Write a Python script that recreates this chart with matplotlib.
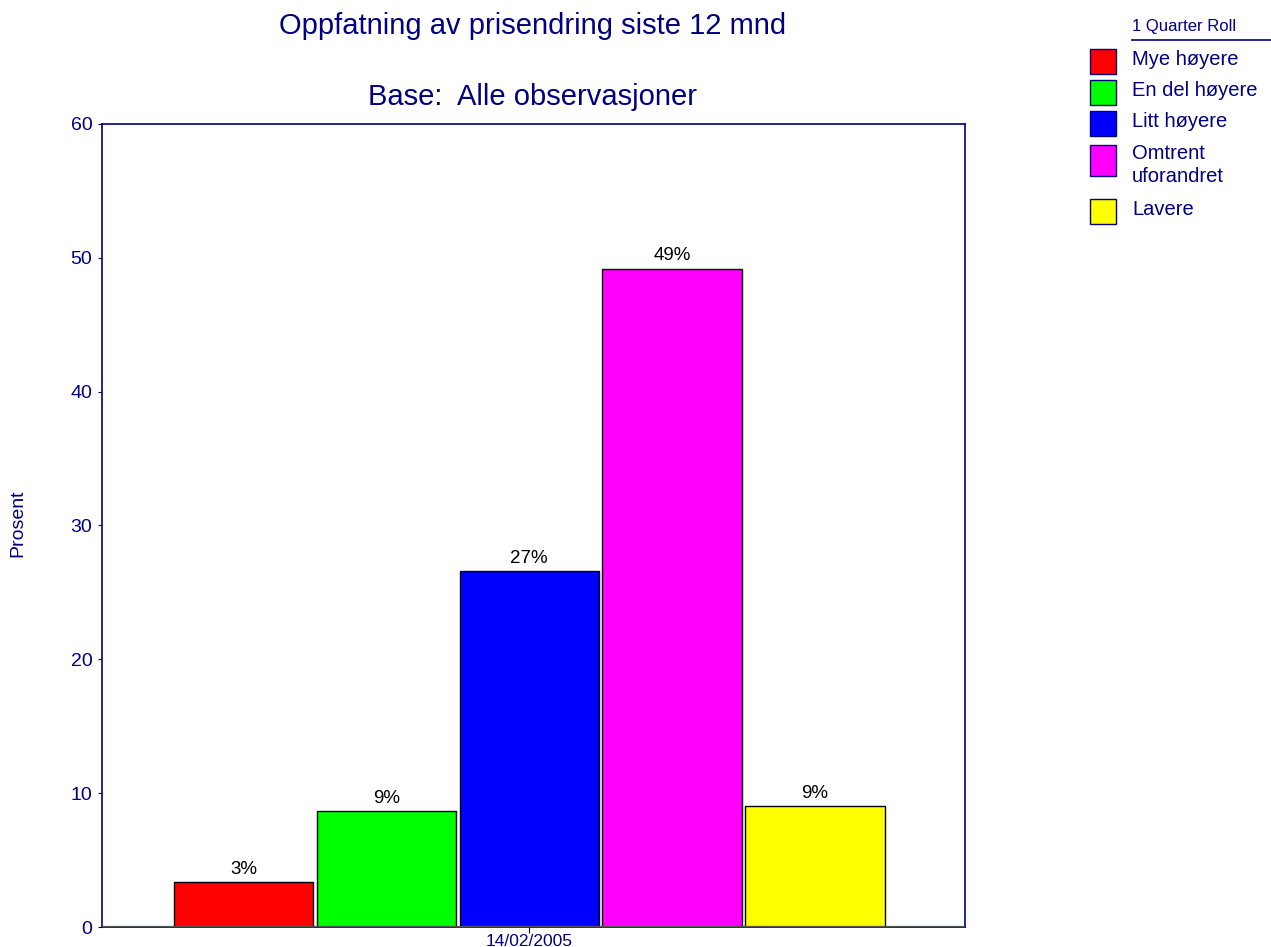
import matplotlib

matplotlib.use("Agg")
import matplotlib.pyplot as plt
from matplotlib.patches import Rectangle

plt.rcParams["font.family"] = ["Liberation Sans", "DejaVu Sans"]

NAVY = "#000080"

categories = ["Mye høyere", "En del høyere", "Litt høyere", "Omtrent\nuforandret", "Lavere"]
values = [3.35, 8.7, 26.6, 49.2, 9.05]
labels = ["3%", "9%", "27%", "49%", "9%"]
colors = ["#ff0000", "#00ff00", "#0000ff", "#ff00ff", "#ffff00"]
date_label = "14/02/2005"

fig = plt.figure(figsize=(12.71, 9.47), dpi=100)
ax = fig.add_axes([0.0803, 0.0211, 0.6789, 0.8480])

positions = [i - 2 for i in range(len(values))]
bars = ax.bar(positions, values, width=0.975, color=colors,
              edgecolor="black", linewidth=1.0, zorder=3)
for b, lab in zip(bars, labels):
    ax.text(b.get_x() + b.get_width() / 2, b.get_height() + 0.3, lab,
            ha="center", va="bottom", fontsize=13.5, color="black")

ax.axhline(0, color="#555555", lw=1.6, zorder=4)
ax.set_xlim(-2.99, 3.05)
ax.set_ylim(0, 60)
ax.set_yticks(range(0, 61, 10))
ax.set_xticks([0])
ax.set_xticklabels([date_label])
for s in ax.spines.values():
    s.set_color(NAVY)
    s.set_linewidth(1.2)
ax.tick_params(axis="y", colors=NAVY, labelsize=14, length=3, pad=4)
ax.tick_params(axis="x", colors=NAVY, labelsize=12.5, length=4, pad=1)

fig.text(18 / 1271, 1 - 523 / 947, "Prosent", rotation=90, ha="center",
         va="center", fontsize=14, color=NAVY)
fig.text(533 / 1271, 1 - 26 / 947, "Oppfatning av prisendring siste 12 mnd",
         ha="center", va="center", fontsize=21, color=NAVY)
fig.text(533 / 1271, 1 - 97 / 947, "Base:  Alle observasjoner",
         ha="center", va="center", fontsize=21, color=NAVY)

# legend drawn by hand (two-line entry gets a taller box)
W, H = 1271, 947
fig.text(1132 / W, 1 - 26 / H, "1 Quarter Roll", ha="left", va="center",
         fontsize=12, color=NAVY)
fig.add_artist(plt.Line2D([1132 / W, 1], [1 - 40 / H] * 2, color=NAVY, lw=1.2))
y = 49
for name, c in zip(categories, colors):
    two = "\n" in name
    top = y + 3 if two else y
    h = 31 if two else 25
    fig.add_artist(Rectangle((1090 / W, 1 - (top + h) / H), 26 / W, h / H,
                             facecolor=c, edgecolor=NAVY, lw=1.0,
                             transform=fig.transFigure))
    fig.text(1132 / W, 1 - (top + (-1 if two else 1)) / H, name, ha="left",
             va="top", fontsize=14.5, color=NAVY, linespacing=1.3)
    y += 57 if two else 31

fig.savefig("out.png", dpi=100)
